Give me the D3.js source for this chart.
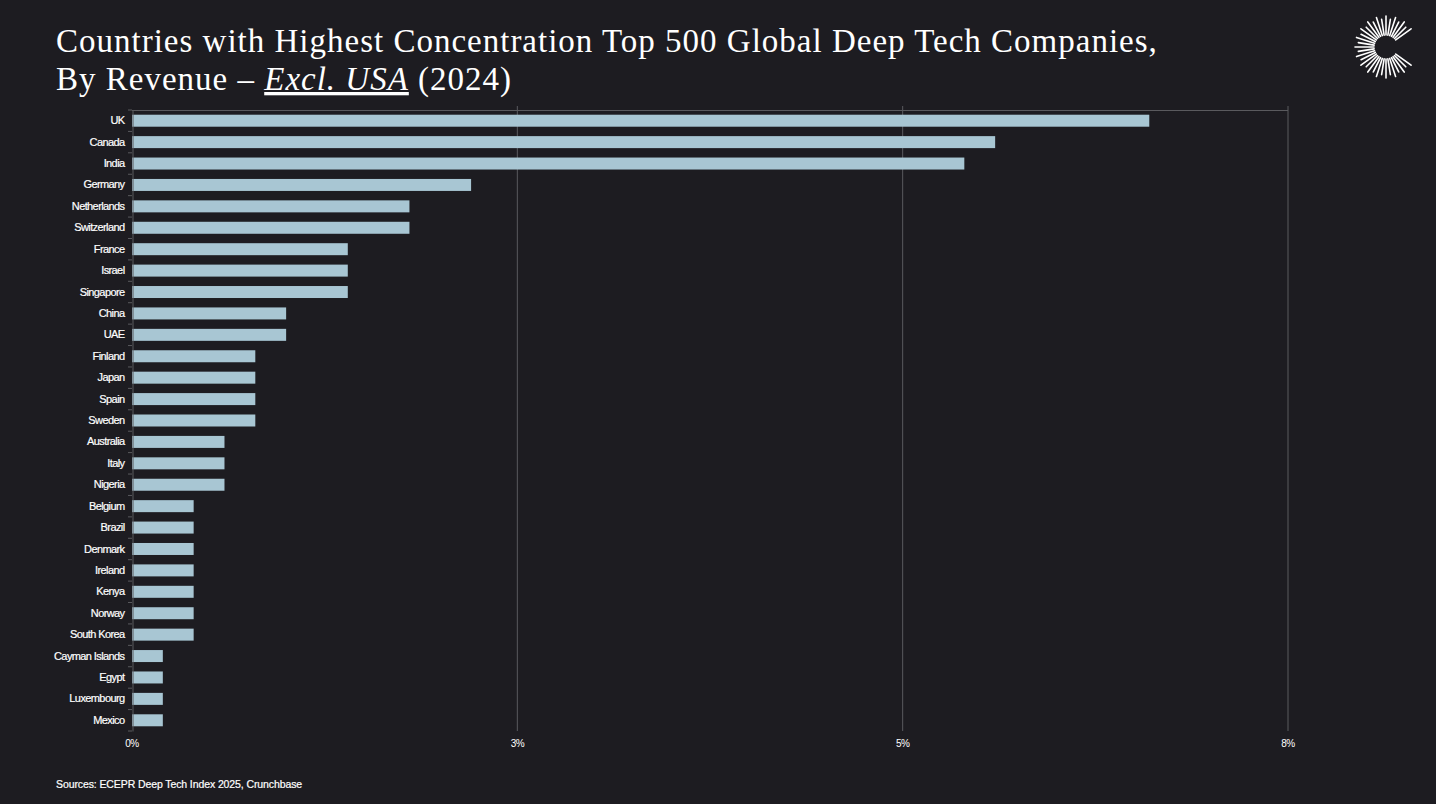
<!DOCTYPE html>
<html>
<head>
<meta charset="utf-8">
<script src="https://cdn.jsdelivr.net/npm/d3@7"></script>
<style>
  body { margin: 0; background: #1d1c21; }
  svg { display: block; }
</style>
</head>
<body>
<div id="chart"></div>
<script>
// data (share of top 500, %)
var countries = ["UK","Canada","India","Germany","Netherlands","Switzerland","France","Israel","Singapore","China","UAE","Finland","Japan","Spain","Sweden","Australia","Italy","Nigeria","Belgium","Brazil","Denmark","Ireland","Kenya","Norway","South Korea","Cayman Islands","Egypt","Luxembourg","Mexico"];
var shares = [6.6,5.6,5.4,2.2,1.8,1.8,1.4,1.4,1.4,1.0,1.0,0.8,0.8,0.8,0.8,0.6,0.6,0.6,0.4,0.4,0.4,0.4,0.4,0.4,0.4,0.2,0.2,0.2,0.2];
var tickValues = [0, 2.5, 5, 7.5];
var tickLabels = ["0%","3%","5%","8%"];

var width = 1436, height = 804;
var margin = {left: 132, right: 148, top: 110, bottom: 73};

var svg = d3.select('#chart').append('svg')
	.attr('width', width)
	.attr('height', height);

svg.append('rect')
	.attr('width', width).attr('height', height)
	.attr('fill', '#1d1c21');

// title
var serif = '"Liberation Serif", "DejaVu Serif", serif';
var title = svg.append('text')
	.attr('x', 56).attr('y', 52)
	.style('font-family', serif)
	.style('font-size', '33px')
	.style('letter-spacing', '1px')
	.attr('fill', '#ffffff');
title.append('tspan').text('Countries with Highest Concentration Top 500 Global Deep Tech Companies,');
var line2 = svg.append('text')
	.attr('x', 56).attr('y', 90)
	.style('font-family', serif)
	.style('font-size', '33px')
	.style('letter-spacing', '1px')
	.attr('fill', '#ffffff');
line2.append('tspan').text('By Revenue – ');
line2.append('tspan').text('Excl. USA').style('font-style', 'italic').style('text-decoration', 'underline');
line2.append('tspan').text(' (2024)');

var x = d3.scaleLinear()
	.domain([0, 7.5])
	.range([margin.left, width - margin.right]);

var y = d3.scaleBand()
	.domain(countries)
	.range([margin.top, height - margin.bottom])
	.paddingInner(0.44)
	.paddingOuter(0.22);

var grid = '#5a5a5e';

// vertical gridlines
svg.append('g').selectAll('line')
	.data(tickValues.slice(1))
	.enter().append('line')
	.attr('x1', function(d){ return x(d); })
	.attr('x2', function(d){ return x(d); })
	.attr('y1', margin.top - 4)
	.attr('y2', height - margin.bottom)
	.attr('stroke', grid)
	.attr('stroke-width', 1);

// top border
svg.append('line')
	.attr('x1', margin.left).attr('x2', x(7.5))
	.attr('y1', margin.top + 0.5).attr('y2', margin.top + 0.5)
	.attr('stroke', grid);

// bars
svg.append('g').selectAll('rect')
	.data(countries)
	.enter().append('rect')
	.attr('x', x(0))
	.attr('y', function(d){ return y(d); })
	.attr('width', function(d, i){ return x(shares[i]) - x(0); })
	.attr('height', y.bandwidth())
	.attr('fill', '#a8c6d3');

// y axis
var yAxis = svg.append('g')
	.attr('transform', 'translate(' + (margin.left + 0.5) + ',0)')
	.call(d3.axisLeft(y).tickSize(0).tickPadding(8));
yAxis.select('.domain').attr('stroke', grid);
yAxis.selectAll('text')
	.attr('fill', '#ffffff')
	.attr('stroke', '#ffffff')
	.attr('stroke-width', 0.2)
	.style('font-family', '"Liberation Sans", Arial, sans-serif')
	.style('font-size', '11px')
	.style('letter-spacing', '-0.6px');

// small ticks on band boundaries
var bounds = countries.map(function(d){ return y(d) - y.step() * y.paddingInner() / 2; });
bounds.push(height - margin.bottom);
svg.append('g').selectAll('line')
	.data(bounds)
	.enter().append('line')
	.attr('x1', margin.left - 4).attr('x2', margin.left)
	.attr('y1', function(d){ return d; })
	.attr('y2', function(d){ return d; })
	.attr('stroke', grid);

// x axis labels
svg.append('g').selectAll('text')
	.data(tickValues)
	.enter().append('text')
	.attr('x', function(d){ return x(d); })
	.attr('y', height - margin.bottom + 16)
	.attr('text-anchor', 'middle')
	.attr('fill', '#ffffff')
	.style('font-family', '"Liberation Sans", Arial, sans-serif')
	.style('font-size', '10px')
	.style('letter-spacing', '-0.6px')
	.text(function(d, i){ return tickLabels[i]; });

// source
svg.append('text')
	.attr('x', 56).attr('y', 788)
	.attr('fill', '#ffffff')
	.attr('stroke', '#ffffff')
	.attr('stroke-width', 0.2)
	.style('font-family', '"Liberation Sans", Arial, sans-serif')
	.style('font-size', '10.5px')
	.style('letter-spacing', '-0.1px')
	.text('Sources: ECEPR Deep Tech Index 2025, Crunchbase');

// logo: a sunburst "C"
var logo = svg.append('g').attr('transform', 'translate(1386,47)');
var rays = d3.range(0, 360, 9).filter(function(a){ return a > 30 && a < 332; });
logo.selectAll('line')
	.data(rays)
	.enter().append('line')
	.attr('x1', function(a){ return 12 * Math.cos(a * Math.PI / 180); })
	.attr('y1', function(a){ return -12 * Math.sin(a * Math.PI / 180); })
	.attr('x2', function(a, i){ var r = 24 + (i % 2 ? 4 : 7); return r * Math.cos(a * Math.PI / 180); })
	.attr('y2', function(a, i){ var r = 24 + (i % 2 ? 4 : 7); return -r * Math.sin(a * Math.PI / 180); })
	.attr('stroke', '#ffffff')
	.attr('stroke-width', 1.6)
	.attr('stroke-linecap', 'round');
</script>
</body>
</html>
